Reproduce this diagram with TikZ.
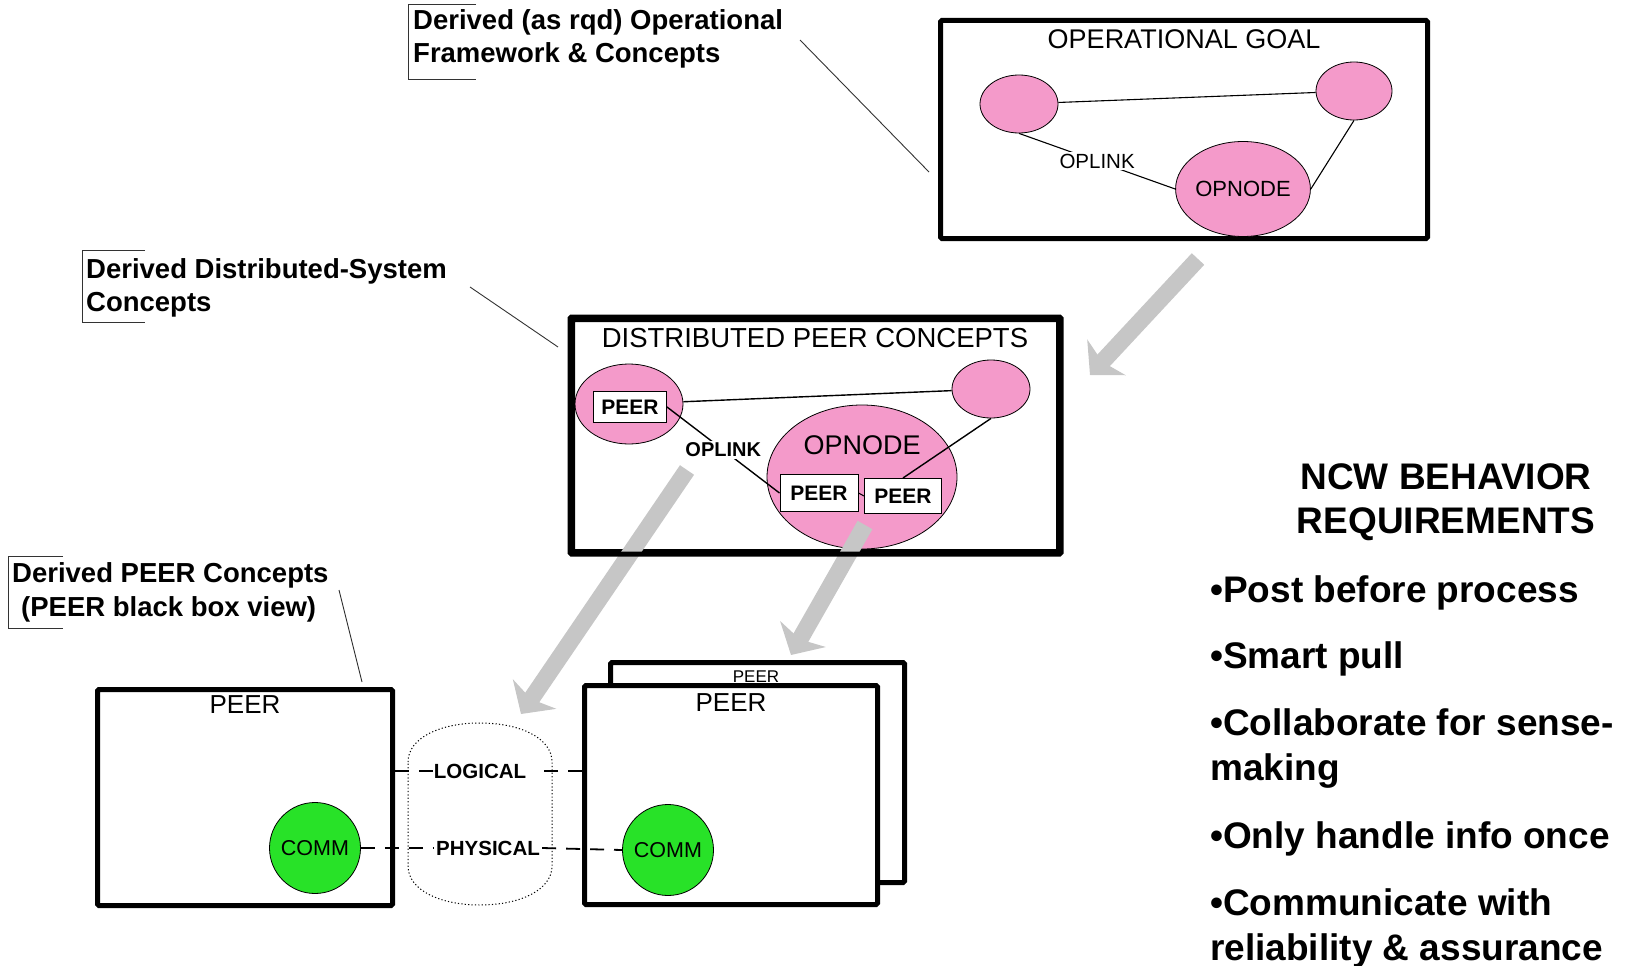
\documentclass[tikz,border=0pt]{standalone}
\usepackage{fontspec}
\setmainfont{Liberation Sans}
\usetikzlibrary{shapes.geometric,arrows.meta}
\definecolor{pinkc}{RGB}{244,154,202}
\definecolor{commgreen}{RGB}{40,226,40}
\definecolor{arrowgray}{RGB}{198,198,198}
\newcommand{\fsz}[1]{\fontsize{#1}{#1}\selectfont}
\begin{document}
\begin{tikzpicture}[x=1pt,y=-1pt,
  box/.style={draw,line width=5pt,rounded corners=1.5pt,fill=white,inner sep=0pt},
  pinkell/.style={ellipse,draw,line width=0.8pt,fill=pinkc,inner sep=0pt},
  peerbox/.style={draw,fill=white,line width=1pt,inner sep=0pt,font=\fsz{21}\bfseries},
  commc/.style={circle,draw,line width=0.8pt,fill=commgreen,inner sep=0pt,minimum size=91pt,font=\fsz{21.5}},
  link/.style={line width=1.4pt},
  leader/.style={line width=0.9pt,draw=black!80},
  callout/.style={anchor=base west,inner sep=0pt,font=\fsz{27.5}\bfseries},
  dashl/.style={line width=1.8pt,dash pattern=on 14pt off 10pt},
  bigarrow/.style={draw=arrowgray,line width=17pt,-{Stealth[length=24pt,width=52pt,inset=6pt]}},
  ncw/.style={anchor=base west,inner sep=0pt,font=\fsz{37}\bfseries},
]
\useasboundingbox (0,0) rectangle (1628,966);

% ---------- callouts ----------
\node[callout] (c1a) at (413,30) {Derived (as rqd) Operational};
\node[callout] (c1b) at (413,63) {Framework \& Concepts};
\draw[leader] (476,4) -- (408,4) -- (408,79) -- (476,79);
\node[callout] (c2a) at (86,278) {Derived Distributed-System};
\node[callout] (c2b) at (86,311) {Concepts};
\draw[leader] (145,250) -- (82,250) -- (82,322) -- (145,322);
\node[callout] (c3a) at (12,582) {Derived PEER Concepts};
\node[callout] (c3b) at (21,616) {(PEER black box view)};
\draw[leader] (63,556) -- (8,556) -- (8,628) -- (63,628);

% ---------- operational goal ----------
\node[box,minimum width=487pt,minimum height=218pt] (opgoal) at (1184,129.5) {};
\node[font=\fsz{27}] (opgoalt) at (1184,39.5) {OPERATIONAL GOAL};
\node[pinkell,minimum width=78pt,minimum height=58pt] (oe1) at (1019,104) {};
\node[pinkell,minimum width=76pt,minimum height=58pt] (oe2) at (1354,91) {};
\node[pinkell,minimum width=133pt,minimum height=95pt,font=\fsz{22}] (opn) at (1243,189) {OPNODE};
\draw[link,line width=1.1pt] (oe1) -- (oe2);
\draw[link,line width=1.1pt] (oe2.south) -- (opn.east);
\draw[link,line width=1.1pt] (oe1.south) -- node[fill=white,inner sep=2pt,font=\fsz{20.5}] (oplt) {OPLINK} (opn.west);

% ---------- distributed peer concepts ----------
\node[box,minimum width=486pt,minimum height=232pt] (dist) at (815.5,435.5) {};
\node[font=\fsz{27.5}] (distt) at (815,338) {DISTRIBUTED PEER CONCEPTS};
\node[pinkell,minimum width=108pt,minimum height=80pt] (me1) at (629,404) {};
\node[pinkell,minimum width=78pt,minimum height=58pt] (me2) at (991,389) {};
\node[pinkell,minimum width=190pt,minimum height=144pt] (mopn) at (862,477) {};
\node[font=\fsz{27}] (mopnt) at (862,445) {OPNODE};
\node[peerbox,minimum width=73pt,minimum height=31pt] (pa) at (630,407) {PEER};
\node[peerbox,minimum width=78pt,minimum height=37pt] (pb) at (819,493) {PEER};
\node[peerbox,minimum width=77pt,minimum height=35pt] (pc) at (903,496) {PEER};
\draw[link] (me1) -- (me2);
\draw[link] (me2.south) -- (pc.north);
\draw[link,line width=1pt] (pb.east) -- (pc.west);
\draw[link] (pa.east) -- node[fill=white,inner sep=2pt,font=\fsz{20}\bfseries] (oplm) {OPLINK} (pb.west);

% ---------- bottom peers ----------
\node[box,minimum width=295pt,minimum height=216pt] (peerL) at (245,797.5) {};
\node[font=\fsz{26}] (peerLt) at (245,705) {PEER};
\node[commc] (commL) at (315,848) {COMM};

\node[box,minimum width=294pt,minimum height=220pt] (peerB) at (757.5,772.5) {};
\node[font=\fsz{17}] (peerBt) at (756,677) {PEER};
\node[box,minimum width=293pt,minimum height=219pt] (peerR) at (731,795) {};
\node[font=\fsz{26}] (peerRt) at (731,703) {PEER};
\node[commc] (commR) at (668,850) {COMM};

\draw[line width=1pt,dash pattern=on 1.2pt off 2.2pt]
  (408,762) .. controls (408,738) and (440,723) .. (480,723)
  .. controls (520,723) and (552,738) .. (552,762) -- (552,866)
  .. controls (552,890) and (520,905) .. (480,905)
  .. controls (440,905) and (408,890) .. (408,866) -- cycle;

\node[font=\fsz{20.5}\bfseries,inner sep=1pt] (logical) at (480,771) {LOGICAL};
\node[font=\fsz{20.5}\bfseries,inner sep=2pt] (physical) at (488,848) {PHYSICAL};
\draw[dashl] (logical.west) -- (peerL.east|-logical);
\draw[dashl] (peerR.west|-logical) -- ([xshift=12pt]logical.east);
\draw[dashl] (commL.east) -- (physical.west);
\draw[dashl] (physical.east) -- (commR.west);

% ---------- big gray arrows ----------
\coordinate (a1s) at (1198,259); \coordinate (a1e) at (1090,375);
\coordinate (a2s) at (687,470);  \coordinate (a2e) at (521,714);
\coordinate (a3s) at (865,525);  \coordinate (a3e) at (791,655);
\draw[bigarrow] (a1s) -- (a1e);
\draw[bigarrow] (a2s) -- (a2e);
\draw[bigarrow] (a3s) -- (a3e);
\draw[line width=5pt,rounded corners=1.5pt] (dist.south west) rectangle (dist.north east);

% ---------- leaders ----------
\coordinate (l1s) at (800,40);  \coordinate (l1e) at (929,172);
\coordinate (l2s) at (470,287); \coordinate (l2e) at (558,347);
\coordinate (l3s) at (339,590); \coordinate (l3e) at (362,682);
\draw[leader] (l1s) -- (l1e);
\draw[leader] (l2s) -- (l2e);
\draw[leader] (l3s) -- (l3e);

% ---------- NCW text ----------
\node[font=\fsz{37}\bfseries,anchor=base,inner sep=0pt] (ncw1) at (1446,489) {NCW BEHAVIOR};
\node[font=\fsz{37}\bfseries,anchor=base,inner sep=0pt] (ncw2) at (1446,533) {REQUIREMENTS};
\node[ncw] (b1) at (1210,602) {•Post before process};
\node[ncw] (b2) at (1210,668) {•Smart pull};
\node[ncw] (b3) at (1210,735) {•Collaborate for sense-};
\node[ncw] (b3b) at (1210,780) {making};
\node[ncw] (b4) at (1210,848) {•Only handle info once};
\node[ncw] (b5) at (1210,915) {•Communicate with};
\node[ncw] (b5b) at (1210,960) {reliability \& assurance};
\end{tikzpicture}
\end{document}
